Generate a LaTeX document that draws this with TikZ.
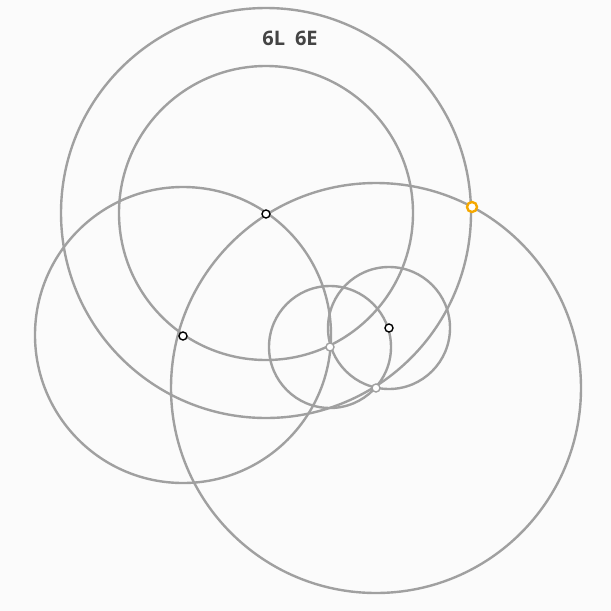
\documentclass[tikz,border=0pt]{standalone}
\usepackage{fontspec}
\setmainfont{Open Sans}
\begin{document}
\begin{tikzpicture}[x=1pt,y=-1pt,
  circ/.style={draw=ringgray,line width=2.4pt},
  pt/.style={circle,draw=black,fill=white,line width=1.4pt,inner sep=0pt,minimum size=8pt},
  gpt/.style={circle,draw=ringgray,fill=white,line width=1.4pt,inner sep=0pt,minimum size=8pt},
  opt/.style={circle,draw=orangept,fill=white,line width=2.4pt,inner sep=0pt,minimum size=10pt}]
\definecolor{ringgray}{HTML}{A0A0A0}
\definecolor{orangept}{HTML}{F5A800}
\definecolor{bg}{HTML}{FBFBFB}
\definecolor{titlec}{HTML}{444444}
\fill[bg] (0,0) rectangle (611,611);
\useasboundingbox (0,0) rectangle (611,611);
\draw[circ] (266,213) circle[radius=205];
\draw[circ] (266,213) circle[radius=147];
\draw[circ] (183,335) circle[radius=148];
\draw[circ] (376,388) circle[radius=205];
\draw[circ] (330,347) circle[radius=61];
\draw[circ] (389,328) circle[radius=61];
\node[pt] (p1) at (266,214) {};
\node[pt] (p2) at (183,336) {};
\node[pt] (p3) at (389,328) {};
\node[gpt] (p4) at (330,347) {};
\node[gpt] (p5) at (376,388) {};
\node[opt] (p6) at (472,207) {};
\node[font=\bfseries\fontsize{20}{24}\selectfont,text=titlec] (title) at (290,38) {6L\hspace{0.5em}6E};
\end{tikzpicture}
\end{document}
